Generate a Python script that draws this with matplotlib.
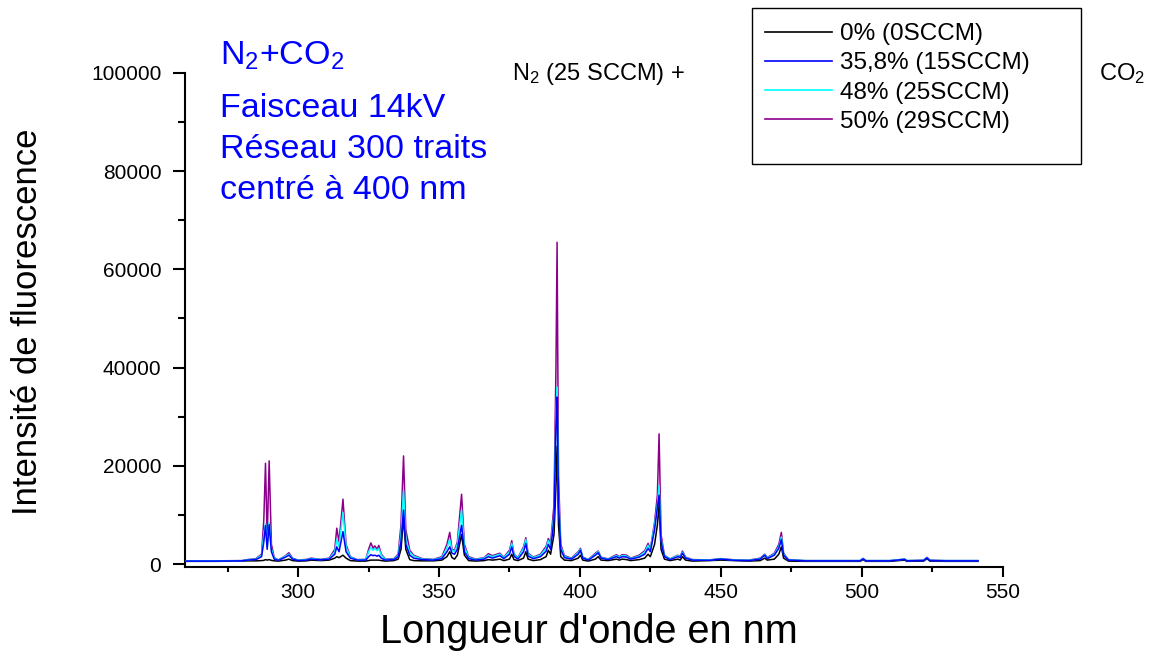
import matplotlib.pyplot as plt
from matplotlib.patches import Rectangle
from matplotlib.ticker import MultipleLocator, FormatStrFormatter

plt.rcParams['font.family'] = ['Liberation Sans', 'DejaVu Sans']
plt.rcParams['mathtext.default'] = 'regular'

# longueur d'onde (nm)
wl = [260, 270, 280, 282, 285, 287, 287.8, 288.4, 289.0, 289.7,
      290.5, 291.5, 293, 295.5, 296.7, 298, 300, 303, 304.5, 306,
      308, 311, 313, 313.7, 314.5, 315.9, 317, 318.5, 321, 324,
      325, 325.8, 326.6, 327.2, 328, 328.6, 329.5, 331, 334, 335.5,
      336.5, 337.4, 338.2, 339.6, 341, 344, 348, 351, 352.8, 353.8,
      354.6, 355.5, 356.5, 358.0, 359, 360.5, 363, 366, 367.5, 369,
      370.5, 371.6, 373, 375, 375.8, 376.6, 378, 380, 380.8, 381.6,
      383.5, 386, 388, 388.8, 389.6, 390.8, 391.5, 391.9, 392.4, 393.2,
      394.5, 397, 399.4, 400.2, 401, 403, 405.5, 406.5, 407.5, 410,
      413, 414, 415, 416.6, 418, 421, 423, 424.2, 425, 426.5,
      427.5, 428.1, 428.8, 430, 432, 434.8, 435.6, 436.4, 437.5, 440,
      446, 450, 455, 460, 464, 465.6, 466.5, 469, 470.6, 471.5,
      472.3, 474, 480, 490, 499.5, 500.5, 501.5, 510, 515.3, 516,
      522, 523.2, 524.2, 530, 541.3]

# 0% CO2 (0 SCCM)
i_0 = [550, 550, 600, 650, 650, 700, 750, 900, 800, 900,
       750, 650, 600, 800, 1000, 700, 600, 650, 800, 750,
       700, 800, 1200, 1500, 1300, 1800, 1200, 700, 600, 600,
       700, 800, 800, 800, 800, 800, 700, 600, 700, 1000,
       3000, 9500, 3000, 900, 700, 650, 650, 800, 1500, 2500,
       1300, 1000, 1800, 6000, 1800, 700, 600, 700, 900, 800,
       900, 1000, 700, 1000, 2000, 900, 700, 1200, 2500, 1000,
       700, 900, 1500, 2800, 2000, 6000, 16000, 24000, 8000, 1500,
       800, 700, 1200, 1800, 800, 600, 1000, 1500, 800, 700,
       1000, 800, 1000, 900, 700, 900, 1200, 2000, 1500, 4000,
       8000, 12000, 3000, 1000, 700, 1000, 800, 1500, 800, 600,
       700, 800, 700, 600, 700, 1200, 800, 1000, 2000, 3500,
       1200, 600, 550, 550, 550, 900, 550, 550, 800, 550,
       600, 1100, 600, 550, 550]

# 35,8% CO2 (15 SCCM)
i_15 = [600, 600, 650, 800, 900, 1500, 4500, 7800, 3000, 8000,
        2500, 1000, 750, 1400, 1800, 1000, 700, 800, 1000, 900,
        850, 1000, 2000, 3500, 2500, 6600, 2500, 1200, 800, 800,
        1500, 1900, 1700, 1800, 1600, 1800, 1200, 800, 900, 1500,
        4500, 11000, 4000, 1800, 1200, 900, 800, 1100, 2500, 3500,
        2200, 2000, 3000, 7900, 2500, 1100, 800, 1000, 1500, 1200,
        1500, 1700, 1100, 2000, 3500, 1600, 1000, 2500, 4200, 1600,
        1100, 1500, 2600, 4000, 3000, 9000, 28000, 34000, 12000, 3000,
        1300, 1000, 2000, 2800, 1200, 800, 1800, 2300, 1200, 900,
        1500, 1200, 1500, 1400, 1000, 1400, 2000, 3200, 2500, 7000,
        11500, 14000, 4500, 1500, 900, 1500, 1300, 2200, 1200, 800,
        750, 1000, 750, 700, 1000, 1800, 1100, 1800, 3200, 5000,
        1800, 800, 650, 650, 650, 1050, 650, 650, 950, 650,
        700, 1250, 700, 650, 650]

# 48% CO2 (25 SCCM)
i_25 = [620, 620, 680, 850, 1000, 1800, 6000, 8200, 3500, 8500,
        3000, 1200, 800, 1600, 2000, 1100, 750, 900, 1100, 1000,
        900, 1100, 2500, 5000, 3500, 10500, 3500, 1400, 850, 900,
        2500, 3300, 2800, 3200, 2700, 3200, 1800, 900, 1000, 1800,
        6000, 15000, 5000, 2400, 1600, 1000, 900, 1300, 3300, 5000,
        2800, 2500, 4000, 11000, 3500, 1300, 900, 1200, 1800, 1500,
        1800, 2000, 1300, 2500, 4200, 1900, 1200, 3200, 5000, 2000,
        1300, 1800, 3200, 4800, 3800, 10000, 30000, 36000, 14000, 3500,
        1500, 1100, 2300, 3000, 1300, 900, 2000, 2500, 1300, 1000,
        1700, 1400, 1700, 1600, 1100, 1600, 2400, 3800, 2800, 8000,
        12000, 16000, 5000, 1700, 1000, 1700, 1400, 2400, 1300, 850,
        800, 1050, 800, 750, 1100, 1900, 1200, 2000, 3500, 5500,
        2000, 850, 700, 700, 700, 1100, 700, 700, 1000, 700,
        750, 1300, 750, 700, 700]

# 50% CO2 (29 SCCM)
i_29 = [650, 650, 700, 900, 1100, 2000, 9000, 20500, 5000, 21000,
        4000, 1300, 850, 1700, 2300, 1200, 800, 950, 1200, 1100,
        950, 1200, 3000, 7300, 4500, 13200, 4000, 1500, 900, 950,
        3000, 4300, 3200, 3700, 3000, 3800, 2000, 1000, 1100, 2000,
        8000, 22000, 7000, 2800, 1800, 1100, 950, 1500, 4000, 6450,
        3000, 2800, 4500, 14200, 4000, 1500, 1000, 1300, 2100, 1700,
        2000, 2200, 1400, 2800, 4750, 2000, 1300, 3500, 5350, 2200,
        1400, 2000, 3600, 5200, 4200, 12000, 40000, 65500, 18000, 4000,
        1700, 1200, 2500, 3200, 1400, 950, 2200, 2650, 1400, 1050,
        1900, 1500, 1900, 1800, 1200, 1800, 2700, 4200, 3000, 8500,
        14000, 26500, 6000, 1800, 1050, 1800, 1500, 2650, 1400, 900,
        850, 1100, 850, 800, 1200, 2000, 1300, 2200, 4000, 6450,
        2200, 900, 700, 700, 700, 1150, 700, 700, 1000, 700,
        800, 1350, 800, 700, 700]

labels = ["0% (0SCCM)", "35,8% (15SCCM)", "48% (25SCCM)", "50% (29SCCM)"]
colors = ["#000000", "#0000ff", "#00ffff", "#8b008b"]
series = [i_0, i_15, i_25, i_29]
zorders = [2, 5, 4, 3]

fig = plt.figure(figsize=(11.63, 6.59), dpi=100)
ax = fig.add_axes([0.159, 0.140, 0.703, 0.7496])

for y, lab, c, z in zip(series, labels, colors, zorders):
    ax.plot(wl, y, color=c, lw=1.1, label=lab, zorder=z)

ax.set_xlim(259.8, 550)
ax.set_ylim(-550, 100000)
ax.xaxis.set_major_locator(MultipleLocator(50))
ax.xaxis.set_minor_locator(MultipleLocator(25))
ax.yaxis.set_major_locator(MultipleLocator(20000))
ax.yaxis.set_minor_locator(MultipleLocator(10000))
ax.yaxis.set_major_formatter(FormatStrFormatter('%d'))
ax.spines['top'].set_visible(False)
ax.spines['right'].set_visible(False)
ax.spines['left'].set_linewidth(1.5)
ax.spines['bottom'].set_linewidth(1.5)
ax.tick_params(axis='both', which='both', direction='out', width=1.5, labelsize=15)
ax.tick_params(axis='x', which='major', length=7, pad=5)
ax.tick_params(axis='x', which='minor', length=3.5)
ax.tick_params(axis='y', which='major', length=9, pad=8)
ax.tick_params(axis='y', which='minor', length=5)

fig.text(28 / 1163, 0.512, "Intensité de fluorescence", rotation=90,
         ha='center', va='center', fontsize=25)
fig.text(589 / 1163, 1 - 632 / 659, "Longueur d'onde en nm",
         ha='center', va='center', fontsize=28.5)

blue_lines = [r"N$_2$+CO$_2$", "Faisceau 14kV", "Réseau 300 traits", "centré à 400 nm"]
baselines = [65, 117, 158, 199]
for txt, yb in zip(blue_lines, baselines):
    fig.text(220 / 1163, 1 - yb / 659, txt, color='#0000ff', fontsize=24.5,
             ha='left', va='baseline')

fig.text(512 / 1163, 1 - 80 / 659, r"N$_2$ (25 SCCM) +", fontsize=17,
         ha='left', va='baseline')
fig.text(1099 / 1163, 1 - 80 / 659, r"CO$_2$", fontsize=17,
         ha='left', va='baseline')

fig.patches.append(Rectangle((751.7 / 1163, 1 - 164 / 659), 329 / 1163, 155.7 / 659,
                             transform=fig.transFigure, fill=False,
                             edgecolor='black', lw=1.0))
leg = ax.legend(loc='upper left', bbox_to_anchor=(765 / 1163, 1 - 23 / 659),
                bbox_transform=fig.transFigure, frameon=False, fontsize=17.5,
                handlelength=2.75, handletextpad=0.35, labelspacing=0.3,
                borderpad=0, borderaxespad=0)
for line in leg.get_lines():
    line.set_linewidth(1.2)

fig.savefig("out.png", dpi=100)
